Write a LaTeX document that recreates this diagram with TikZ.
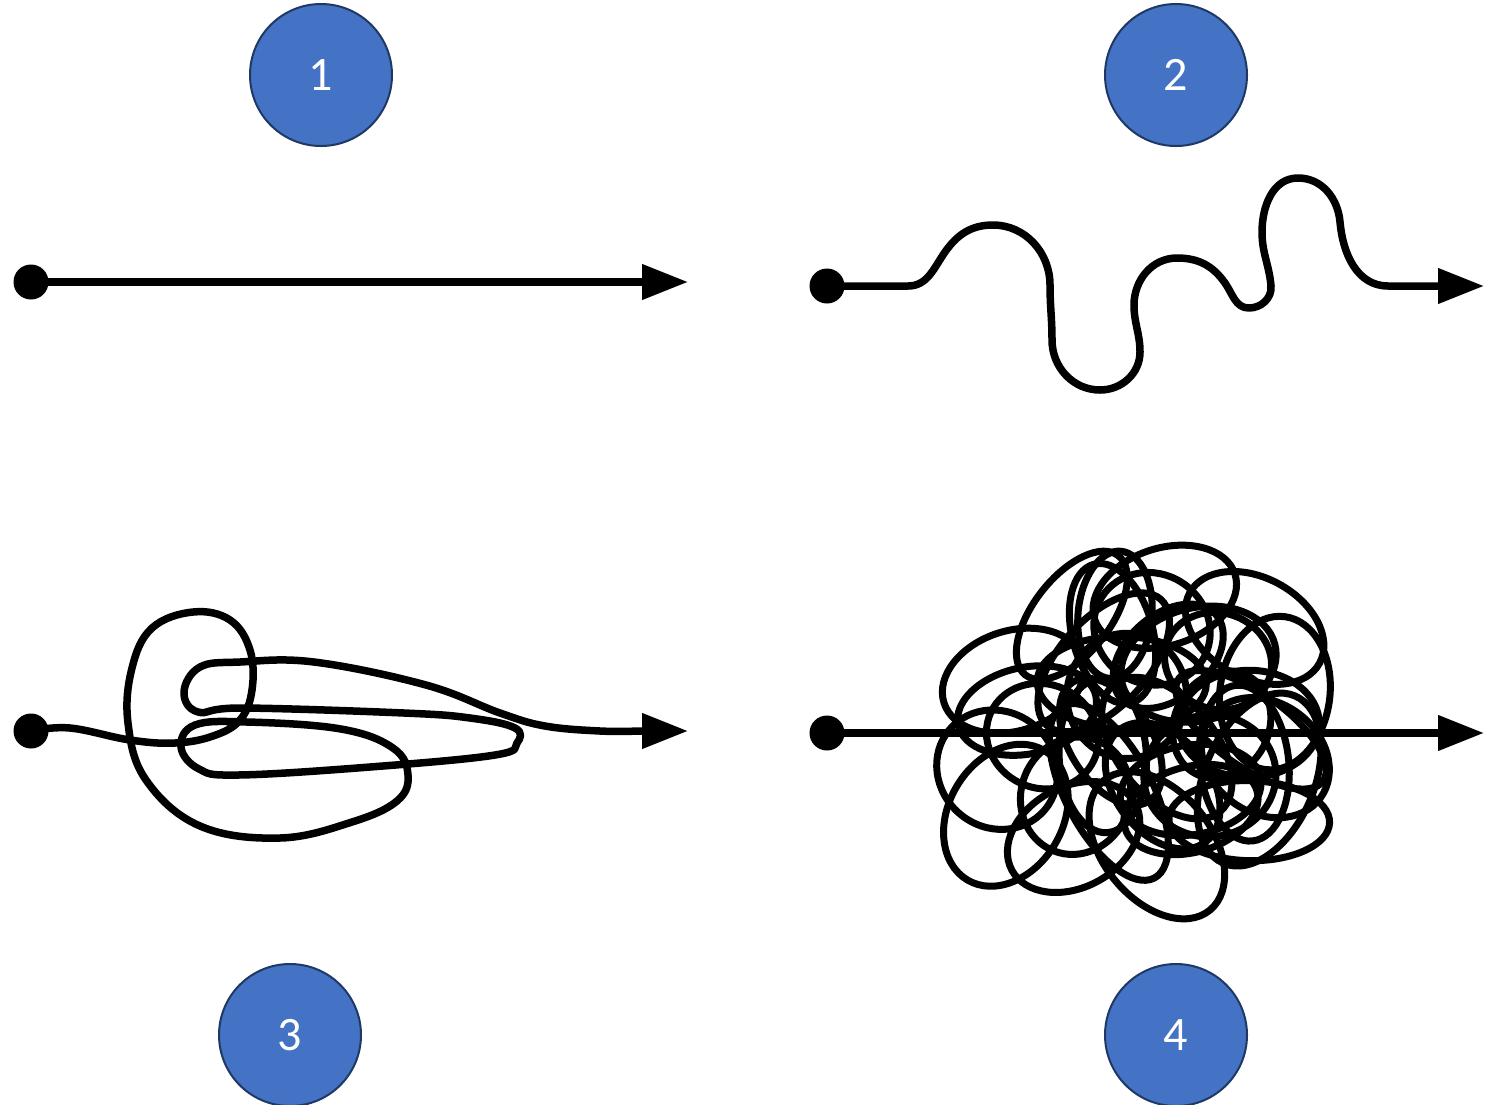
\documentclass[tikz,border=0pt]{standalone}
\usepackage{fontspec}
\setmainfont{Carlito}
\usetikzlibrary{arrows.meta}

\definecolor{stepblue}{HTML}{4472C4}
\definecolor{stepedge}{HTML}{1F3864}

\tikzset{
  stepnum/.style={circle, minimum size=142pt, inner sep=0pt, fill=stepblue,
    draw=stepedge, line width=2pt, text=white, font=\fontsize{48}{48}\selectfont},
  startdot/.style={circle, fill=black, minimum size=35pt, inner sep=0pt},
  route/.style={line width=7.5pt, line cap=round, line join=round,
    -{Triangle[length=46pt,width=34pt]}},
  knot/.style={line width=7pt},
}

\begin{document}
\begin{tikzpicture}[x=1pt, y=-1pt]

\useasboundingbox (0,0) rectangle (1499,1104);

% numbers
\node[stepnum] (n1) at (321,75) {1};
\node[stepnum] (n2) at (1176,75) {2};
\node[stepnum] (n3) at (290,1035) {3};
\node[stepnum] (n4) at (1176,1035) {4};

% 1: straight
\node[startdot] (s1) at (31,282) {};
\coordinate (e1) at (688,282);
\draw[route] (s1.center) -- (e1);

% 2: wavy
\node[startdot] (s2) at (827,286) {};
\coordinate (e2) at (1484,286);
\draw[route] (s2.center) -- (908,286)
  to[out=0,in=235] (945,252) to[out=55,in=180] (993,225)
  to[out=0,in=90] (1050,285) to[out=-90,in=90] (1052,340)
  to[out=-90,in=180] (1100,390) to[out=0,in=-90] (1140,352)
  to[out=90,in=-90] (1134,305) to[out=90,in=180] (1177,258)
  to[out=0,in=125] (1225,283) to[out=-55,in=180] (1249,308)
  to[out=0,in=-85] (1271,286) to[out=95,in=-90] (1262,232)
  to[out=90,in=180] (1298,178) to[out=0,in=95] (1340,222)
  to[out=-85,in=180] (1388,286) -- (e2);

% 3: tangled
\node[startdot] (s3) at (31,731) {};
\coordinate (e3) at (688,731);
\draw[route] (s3.center)
  plot[smooth, tension=.65] coordinates {(31,731) (70,728) (130,740) (175,743)
    (213,736) (240,720) (252,690) (250,650) (230,620) (193,612) (152,628) (132,668)
    (128,723) (146,780) (200,826) (280,838) (352,822) (397,801) (408,775) (393,748)
    (341,729) (247,722) (195,725) (181,747) (199,769) (238,775) (370,767) (495,755)
    (517,743) (515,728) (470,718) (404,713) (242,708) (198,712) (184,692) (200,667)
    (240,662) (314,662) (426,685) (500,713) (545,726) (600,731) (640,731)}
  -- (e3);

% 4: knot
\node[startdot] (s4) at (827,733) {};
\coordinate (e4) at (1484,733);
\draw[route] (s4.center) -- (e4);
\begin{scope}[knot]
\pgfmathsetseed{2024}
\foreach \gx/\gy in {1070/605, 1160/595, 1240/630,
    1010/680, 1095/670, 1180/660, 1270/690,
    1005/765, 1090/760, 1180/755, 1270/765,
    1060/830, 1150/835, 1240/825}{
  \pgfmathsetmacro{\cx}{\gx+rand*15}
  \pgfmathsetmacro{\cy}{\gy+rand*12}
  \pgfmathsetmacro{\rx}{55+rnd*30}
  \pgfmathsetmacro{\ry}{38+rnd*25}
  \pgfmathsetmacro{\ang}{rnd*180}
  \draw[rotate around={\ang:(\cx,\cy)}] (\cx,\cy) ellipse ({\rx} and {\ry});
}
\foreach \gx/\gy in {1050/720, 1140/700, 1230/725, 1100/790, 1200/800,
    1130/630, 1030/810, 1250/760}{
  \pgfmathsetmacro{\cx}{\gx+rand*25}
  \pgfmathsetmacro{\cy}{\gy+rand*25}
  \pgfmathsetmacro{\rx}{60+rnd*45}
  \pgfmathsetmacro{\ry}{30+rnd*30}
  \pgfmathsetmacro{\ang}{rnd*180}
  \draw[rotate around={\ang:(\cx,\cy)}] (\cx,\cy) ellipse ({\rx} and {\ry});
}
\pgfmathsetseed{77}
\foreach \k in {1,...,14}{
  \pgfmathsetmacro{\cx}{1140+rand*115}
  \pgfmathsetmacro{\cy}{718+rand*95}
  \pgfmathsetmacro{\rx}{45+rnd*35}
  \pgfmathsetmacro{\ry}{40+rnd*25}
  \pgfmathsetmacro{\ang}{rnd*180}
  \draw[rotate around={\ang:(\cx,\cy)}] (\cx,\cy) ellipse ({\rx} and {\ry});
}
\end{scope}

\end{tikzpicture}
\end{document}
